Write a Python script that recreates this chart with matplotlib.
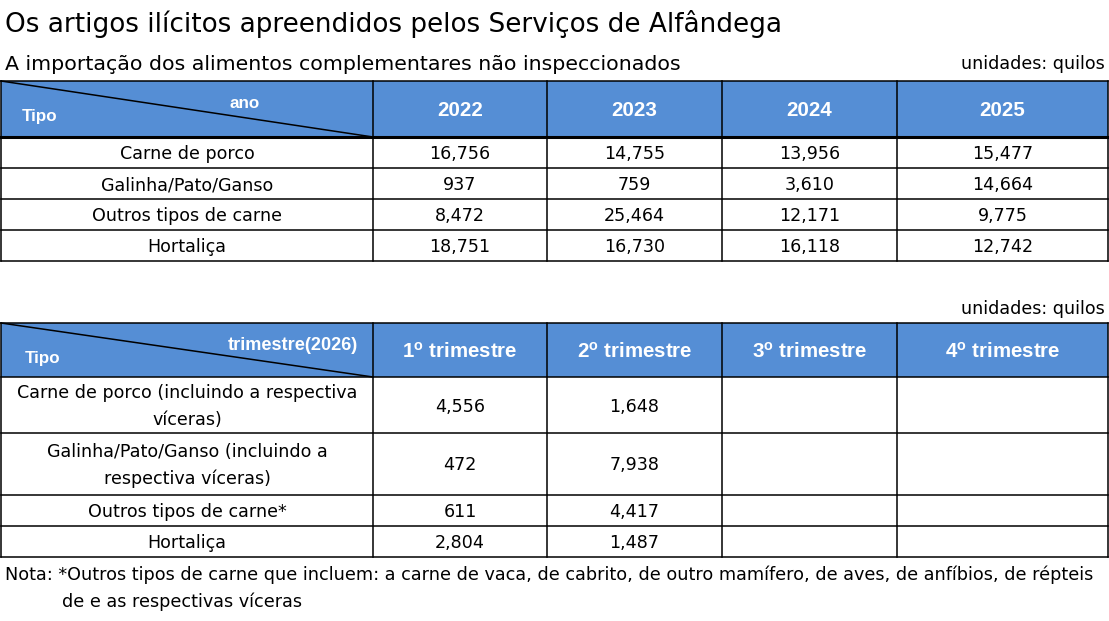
import matplotlib
matplotlib.use("Agg")
import matplotlib.pyplot as plt

plt.rcParams["font.family"] = ["DejaVu Sans"]
plt.rcParams["mathtext.fontset"] = "custom"
plt.rcParams["mathtext.rm"] = "Liberation Sans"
plt.rcParams["mathtext.bf"] = "Liberation Sans:bold"

title = "Os artigos ilícitos apreendidos pelos Serviços de Alfândega"
subtitle = "A importação dos alimentos complementares não inspeccionados"
units = "unidades: quilos"

years = ["2022", "2023", "2024", "2025"]
types_year = ["Carne de porco", "Galinha/Pato/Ganso", "Outros tipos de carne", "Hortaliça"]
carne_porco = [16756, 14755, 13956, 15477]
galinha = [937, 759, 3610, 14664]
outros = [8472, 25464, 12171, 9775]
hortalica = [18751, 16730, 16118, 12742]
year_values = [carne_porco, galinha, outros, hortalica]

quarters = [r"1$^{\mathbf{o}}$ trimestre", r"2$^{\mathbf{o}}$ trimestre",
            r"3$^{\mathbf{o}}$ trimestre", r"4$^{\mathbf{o}}$ trimestre"]
types_q = ["Carne de porco (incluindo a respectiva\nvíceras)",
           "Galinha/Pato/Ganso (incluindo a\nrespectiva víceras)",
           "Outros tipos de carne*", "Hortaliça"]
q_porco = [4556, 1648, None, None]
q_galinha = [472, 7938, None, None]
q_outros = [611, 4417, None, None]
q_hortalica = [2804, 1487, None, None]
q_values = [q_porco, q_galinha, q_outros, q_hortalica]

note1 = "Nota: *Outros tipos de carne que incluem: a carne de vaca, de cabrito, de outro mamífero, de aves, de anfíbios, de répteis"
note2 = "de e as respectivas víceras"

HEAD = "#558ed5"
BOLD = "Liberation Sans"
cols = [1, 373, 547, 722, 897, 1108]

fig = plt.figure(figsize=(11.09, 6.21), dpi=100)
ax = fig.add_axes([0, 0, 1, 1])
ax.set_xlim(0, 1109)
ax.set_ylim(621, 0)
ax.axis("off")


def px(p):
    return p * 0.72


def draw_table(top, head_bot, row_lines, head_labels, row_labels, values,
               corner_right, corner_px, head_lw, corner_pos, tipo_pos):
    ax.add_patch(plt.Rectangle((cols[0], top), cols[-1] - cols[0], head_bot - top,
                               color=HEAD, lw=0, zorder=1))
    ax.plot([cols[0], cols[1]], [top, head_bot], color="black", lw=1.1, zorder=3)
    ax.text(*corner_pos, corner_right, color="white", fontsize=px(corner_px), fontweight="bold",
            family=BOLD, ha="left", va="center", zorder=4)
    ax.text(*tipo_pos, "Tipo", color="white", fontsize=px(17), fontweight="bold",
            family=BOLD, ha="left", va="center", zorder=4)
    for i, lab in enumerate(head_labels):
        xc = (cols[i + 1] + cols[i + 2]) / 2
        ax.text(xc, (top + head_bot) / 2 + 2, lab, color="white", fontsize=px(20.5),
                fontweight="bold", family=BOLD, ha="center", va="center", zorder=4)
    ys = [head_bot] + row_lines
    for r, lab in enumerate(row_labels):
        yc = (ys[r] + ys[r + 1]) / 2 + 1.5
        ax.text((cols[0] + cols[1]) / 2, yc, lab, fontsize=px(17.5), ha="center",
                va="center", linespacing=1.62, zorder=4)
        for c, v in enumerate(values[r]):
            if v is None:
                continue
            xc = (cols[c + 1] + cols[c + 2]) / 2
            ax.text(xc, yc, f"{v:,}", fontsize=px(17.5), ha="center", va="center", zorder=4)
    # grid lines
    ax.plot([cols[0], cols[-1]], [top, top], color="black", lw=1.1, zorder=3)
    ax.plot([cols[0], cols[-1]], [head_bot, head_bot], color="black", lw=head_lw, zorder=3)
    for y in row_lines:
        ax.plot([cols[0], cols[-1]], [y, y], color="black", lw=1.1, zorder=3)
    for x in cols:
        ax.plot([x, x], [top, row_lines[-1]], color="black", lw=1.1, zorder=3)


ax.text(5, 24, title, fontsize=px(26.3), ha="left", va="center")
ax.text(5, 64, subtitle, fontsize=px(20.5), ha="left", va="center")
ax.text(1105, 64, units, fontsize=px(17.5), ha="right", va="center")

draw_table(81, 137, [168, 199, 230, 261], years, types_year, year_values,
           "ano", 17, 2.2, (230, 104), (22, 117))

ax.text(1105, 309, units, fontsize=px(17.5), ha="right", va="center")
draw_table(323, 377, [433, 495, 526, 557], quarters, types_q, q_values,
           "trimestre(2026)", 18.2, 1.1, (228, 345), (25, 359))

ax.text(5, 575, note1, fontsize=px(17.6), ha="left", va="center")
ax.text(62, 602, note2, fontsize=px(17.6), ha="left", va="center")

fig.savefig("out.png", dpi=100, facecolor="white")
